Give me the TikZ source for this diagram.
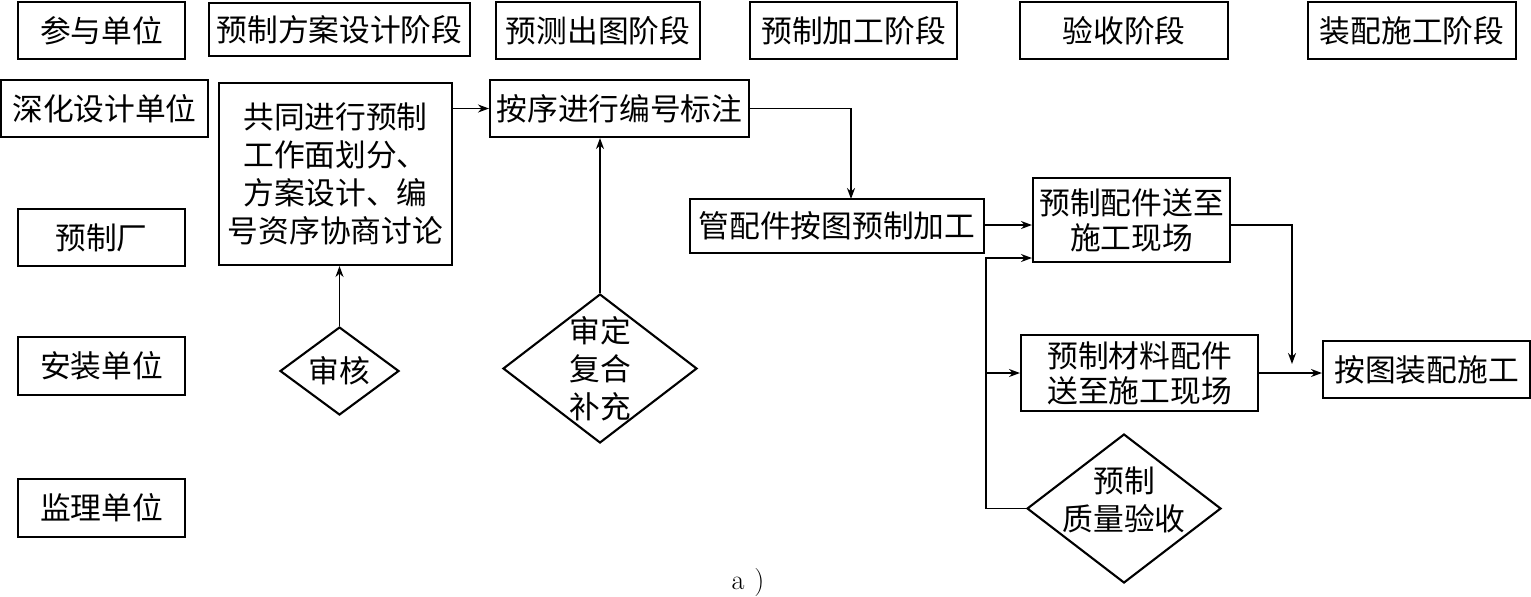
\documentclass[tikz,border=0pt]{standalone}
\usepackage{fontspec}
\newfontfamily\cjk{Noto Sans CJK SC}
\usetikzlibrary{shapes.geometric,arrows.meta}
\tikzset{
  box/.style={draw, line width=1.2pt, inner sep=0pt, align=center, font=\cjk\fontsize{17.5}{21.5}\selectfont},
  box2/.style={box, font=\cjk\fontsize{17.5}{20}\selectfont},
  dia/.style={draw, diamond, line width=1.2pt, inner sep=0pt},
  lbl/.style={align=center, inner sep=0pt, font=\cjk\fontsize{17.5}{21.5}\selectfont},
  arr/.style={-{Stealth[length=0.22cm,width=0.16cm]}, line width=1pt},
  ln/.style={line width=1pt},
}
\begin{document}
\begin{tikzpicture}[x=0.02cm,y=-0.02cm]
\useasboundingbox (0,0) rectangle (1531,596);
% header row
\node[box, minimum width=3.34cm, minimum height=1.14cm] (h1) at (101.5,30.5) {参与单位};
\node[box, minimum width=5.22cm, minimum height=1.06cm] (h2) at (339.5,29.5) {预制方案设计阶段};
\node[box, minimum width=4.08cm, minimum height=1.14cm] (h3) at (598,30.5) {预测出图阶段};
\node[box, minimum width=4.14cm, minimum height=1.14cm] (h4) at (853.5,30.5) {预制加工阶段};
\node[box, minimum width=4.16cm, minimum height=1.14cm] (h5) at (1124,30.5) {验收阶段};
\node[box, minimum width=4.16cm, minimum height=1.14cm] (h6) at (1412,30.5) {装配施工阶段};
% participants
\node[box, minimum width=4.14cm, minimum height=1.14cm] (p1) at (104.5,108.5) {深化设计单位};
\node[box, minimum width=3.34cm, minimum height=1.14cm] (p2) at (101.5,237.5) {预制厂};
\node[box, minimum width=3.34cm, minimum height=1.16cm] (p3) at (101.5,366) {安装单位};
\node[box, minimum width=3.34cm, minimum height=1.16cm] (p4) at (101.5,508) {监理单位};
% flow
\node[box, minimum width=4.66cm, minimum height=3.64cm] (gt) at (335.5,174) {共同进行预制\\工作面划分、\\方案设计、编\\号资序协商讨论};
\node[box, minimum width=5.18cm, minimum height=1.14cm] (ax) at (619.5,108.5) {按序进行编号标注};
\node[box, minimum width=5.88cm, minimum height=1.08cm] (gp) at (837,226) {管配件按图预制加工};
\node[box2, minimum width=3.94cm, minimum height=1.68cm] (ps) at (1131.5,220) {预制配件送至\\施工现场};
\node[box2, minimum width=4.74cm, minimum height=1.52cm] (pm) at (1139.5,373) {预制材料配件\\送至施工现场};
\node[box, minimum width=4.14cm, minimum height=1.14cm] (az) at (1426.5,369.5) {按图装配施工};
\node[dia, minimum width=2.38cm, minimum height=1.76cm, label={[lbl]center:审核}] (sh) at (339.5,371) {};
\node[dia, minimum width=3.88cm, minimum height=2.98cm, label={[lbl]center:审定\\复合\\补充}] (sd) at (600,368.5) {};
\node[dia, minimum width=3.88cm, minimum height=2.98cm, label={[lbl, yshift=0.18cm]center:预制\\质量验收}] (zl) at (1124,508.5) {};
% connectors
\coordinate (c1) at (851,199);
\coordinate (q1) at (986,508.5);
\coordinate (q2) at (986,258);
\coordinate (q3) at (1292,364);
\draw[arr] (ax.west -| gt.east) -- (ax.west);
\draw[arr] (sh.north) -- (sh.north |- gt.south);
\draw[arr] (sd.north) -- (sd.north |- ax.south);
\draw[arr] (ax.east) -| (c1);
\draw[arr] (gp.east |- 0,225) -- (ps.west |- 0,225);
\draw[arr] (zl.west) -- (q1) -- (q2) -- (q2 -| ps.west);
\draw[arr] (q1 |- pm.west) -- (pm.west);
\draw[arr] (ps.east |- 0,225) -| (q3);
\draw[arr] (pm.east) -- (pm.east -| az.west);
% caption
\node[font=\fontsize{16}{18}\selectfont, inner sep=0pt] (cap) at (748,582) {a\hspace{0.35em})};
\end{tikzpicture}
\end{document}
